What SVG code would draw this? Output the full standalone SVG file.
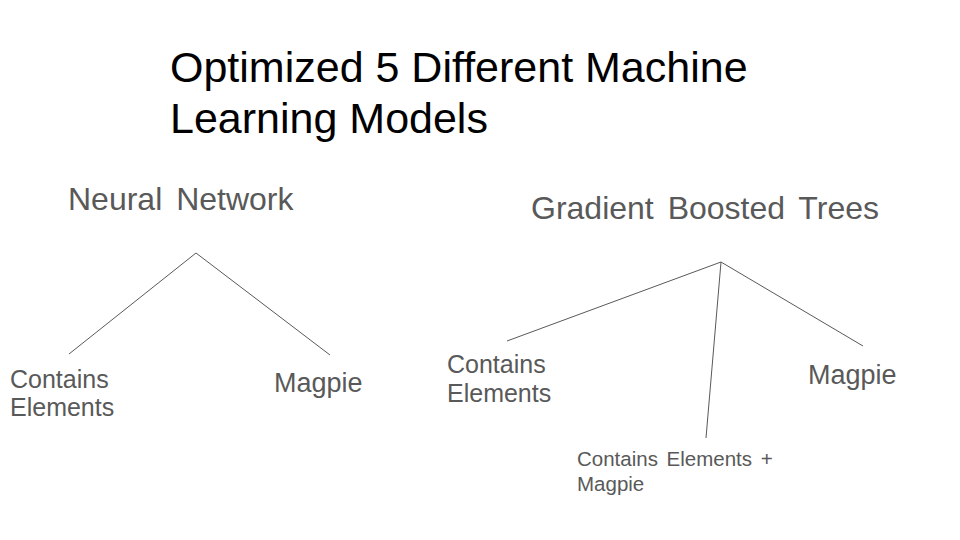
<svg xmlns="http://www.w3.org/2000/svg" width="960" height="540" viewBox="0 0 960 540">
<style>
text{font-family:"Liberation Sans",Arial,sans-serif;fill:#595959}
.title{fill:#000;font-size:43px}
.head{font-size:32px;word-spacing:5px}
.lbl{font-size:25px}
.mg{font-size:27px}
.sm{font-size:20.5px;word-spacing:3px}
.c line{stroke:#595959;stroke-width:1}
</style>
<rect width="960" height="540" fill="#fff"/>
<g id="title"><text class="title" x="170" y="82">Optimized 5 Different Machine</text><text class="title" x="170" y="133">Learning Models</text></g>
<g class="c" id="connectors">
<line x1="196" y1="253" x2="69" y2="354"/>
<line x1="196" y1="253" x2="330" y2="355"/>
<line x1="721" y1="262" x2="507" y2="341"/>
<line x1="721" y1="262" x2="706" y2="438"/>
<line x1="721" y1="262" x2="863" y2="346"/>
</g>
<g id="nn"><text class="head" x="68" y="210">Neural Network</text></g>
<g id="nn-ce"><text class="lbl" x="10" y="388">Contains</text><text class="lbl" x="10" y="416">Elements</text></g>
<g id="nn-mg"><text class="mg" x="274" y="392">Magpie</text></g>
<g id="gbt"><text class="head" x="531" y="219">Gradient Boosted Trees</text></g>
<g id="gbt-ce"><text class="lbl" x="447" y="373">Contains</text><text class="lbl" x="447" y="402">Elements</text></g>
<g id="gbt-mg"><text class="mg" x="808" y="384">Magpie</text></g>
<g id="gbt-cem"><text class="sm" x="577" y="466">Contains Elements +</text><text class="sm" x="577" y="491">Magpie</text></g>
</svg>
